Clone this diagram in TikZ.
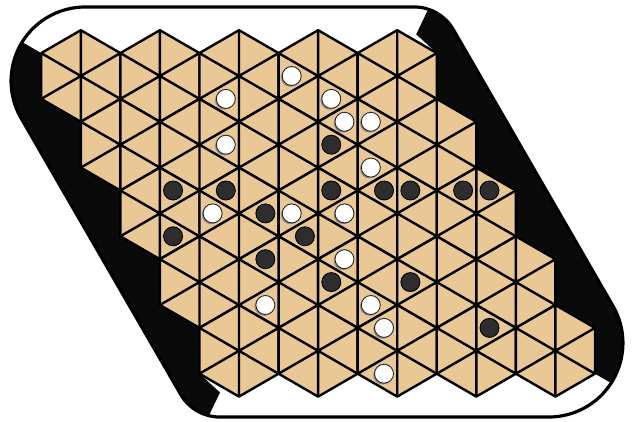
\documentclass[tikz,border=0pt]{standalone}
\usetikzlibrary{shadows}

\definecolor{boardtan}{RGB}{233,200,150}
\definecolor{boardblack}{RGB}{10,10,10}
\definecolor{stonegray}{RGB}{45,45,45}

\tikzset{
  cell/.style={fill=boardtan, draw=black, line width=2.4pt, line join=round},
  gridline/.style={draw=black, line width=2.4pt},
  wstone/.style={circle, draw=black!85, line width=0.9pt, fill=white, minimum size=19pt, inner sep=0pt,
    drop shadow={shadow xshift=-1.3pt, shadow yshift=-1.3pt, fill=black!45, opacity=1}},
  bstone/.style={circle, draw=black, line width=0.9pt, fill=stonegray, minimum size=19pt, inner sep=0pt},
  tE/.style={xshift=26.37pt},
  tW/.style={xshift=-26.37pt},
  tNE/.style={xshift=13.18pt, yshift=22.9pt},
  tNW/.style={xshift=-13.18pt, yshift=22.9pt},
  tSE/.style={xshift=13.18pt, yshift=-22.9pt},
  tSW/.style={xshift=-13.18pt, yshift=-22.9pt}
}

\begin{document}
\begin{tikzpicture}[x=1pt, y=-1pt]
  \useasboundingbox (0,0) rectangle (634,422);
  \fill[white] (0,0) rectangle (634,422);

  % black corners between the board and the frame
  \begin{scope}
    \clip (85.1,7) -- (414.3,7) arc[start angle=270, end angle=330, radius=45] -- (613,306) arc[start angle=330, end angle=450, radius=74]
      -- (219.7,417) arc[start angle=90, end angle=150, radius=45] -- (21,118) arc[start angle=150, end angle=270, radius=74] -- cycle;
    \fill[boardblack] (-10.7,23.1) -- (41.25,53.1) -- (41.25,98.9) -- (80.8,121.8) -- (80.8,167.6) -- (120.35,190.5) -- (120.35,236.3) -- (159.9,259.2) -- (159.9,305.0) -- (199.45,327.9) -- (199.45,373.7) -- (220,392.5) -- (202,430) -- (-100,430) -- (-100,23.1) -- cycle;
    \fill[boardblack] (646.9,403.7) -- (594.95,373.7) -- (594.95,327.9) -- (555.4,305.0) -- (555.4,259.2) -- (515.85,236.3) -- (515.85,190.5) -- (476.3,167.6) -- (476.3,121.8) -- (436.75,98.9) -- (436.75,53.1) -- (416.2,34.3) -- (434.2,-3.2) -- (740,-3.2) -- (740,403.7) -- cycle;
  \end{scope}
  \draw[line width=3.2pt] (85.1,7) -- (414.3,7) arc[start angle=270, end angle=330, radius=45] -- (613,306) arc[start angle=330, end angle=450, radius=74]
    -- (219.7,417) arc[start angle=90, end angle=150, radius=45] -- (21,118) arc[start angle=150, end angle=270, radius=74] -- cycle;

  % hexagons, six triangles each
  \foreach \r in {0,...,4}{
    \foreach \c in {0,...,4}{
      \pgfmathsetmacro{\hx}{80.8+79.1*\c+39.55*\r}
      \pgfmathsetmacro{\hy}{76+68.7*\r}
      \coordinate (h\r\c) at (\hx,\hy);
      \draw[cell] (h\r\c) +(0,-45.8) -- +(39.55,-22.9) -- +(39.55,22.9) -- +(0,45.8) -- +(-39.55,22.9) -- +(-39.55,-22.9) -- cycle;
      \draw[gridline] (h\r\c) +(0,-45.8) -- +(0,45.8) +(39.55,-22.9) -- +(-39.55,22.9) +(-39.55,-22.9) -- +(39.55,22.9);
    }
  }

  % white stones
  \node[wstone, tW]  (w1)  at (h03) {};
  \node[wstone, tSW] (w2)  at (h02) {};
  \node[wstone, tSE] (w3)  at (h03) {};
  \node[wstone, tNW] (w4)  at (h13) {};
  \node[wstone, tNE] (w5)  at (h13) {};
  \node[wstone, tE]  (w6)  at (h11) {};
  \node[wstone, tSE] (w7)  at (h13) {};
  \node[wstone, tW]  (w8)  at (h21) {};
  \node[wstone, tW]  (w9)  at (h22) {};
  \node[wstone, tE]  (w10) at (h22) {};
  \node[wstone, tNW] (w11) at (h32) {};
  \node[wstone, tSW] (w12) at (h31) {};
  \node[wstone, tSE] (w13) at (h32) {};
  \node[wstone, tNW] (w14) at (h42) {};
  \node[wstone, tSW] (w15) at (h42) {};

  % black stones
  \node[bstone, tW]  (b1)  at (h13) {};
  \node[bstone, tNE] (b2)  at (h20) {};
  \node[bstone, tNW] (b3)  at (h21) {};
  \node[bstone, tNE] (b4)  at (h22) {};
  \node[bstone, tNW] (b5)  at (h23) {};
  \node[bstone, tNE] (b6)  at (h23) {};
  \node[bstone, tNW] (b7)  at (h24) {};
  \node[bstone, tNE] (b8)  at (h24) {};
  \node[bstone, tE]  (b9)  at (h21) {};
  \node[bstone, tSW] (b10) at (h22) {};
  \node[bstone, tSE] (b11) at (h20) {};
  \node[bstone, tNW] (b12) at (h31) {};
  \node[bstone, tW]  (b13) at (h32) {};
  \node[bstone, tW]  (b14) at (h33) {};
  \node[bstone, tNE] (b15) at (h43) {};
\end{tikzpicture}
\end{document}
